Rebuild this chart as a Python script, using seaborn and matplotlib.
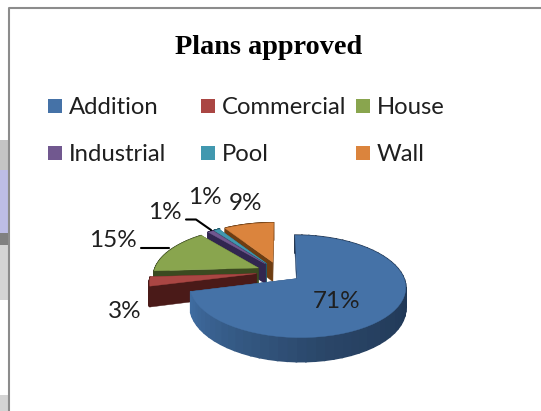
import numpy as np
import matplotlib
matplotlib.use("Agg")
import matplotlib.pyplot as plt
from matplotlib.patches import Rectangle
import seaborn as sns

title = "Plans approved"
categories = ["Addition", "Commercial", "House", "Industrial", "Pool", "Wall"]
shares = [71, 3, 15, 1, 1, 9]
top_colors = ["#4572A7", "#AA4643", "#89A54E", "#71588F", "#4198AF", "#DB843D"]
side_colors = ["#2c4a70", "#4a1a18", "#3b4a20", "#312650", "#1f5a6a", "#6e3d12"]
pct_labels = ["71%", "3%", "15%", "1%", "1%", "9%"]

sns.set_theme(style="white")
plt.rcParams["font.family"] = ["Lato", "DejaVu Sans"]

fig = plt.figure(figsize=(5.41, 4.11), dpi=100, facecolor="white")
ax = fig.add_axes([0, 0, 1, 1])
ax.set_xlim(0, 541)
ax.set_ylim(411, 0)
ax.axis("off")

# pie geometry, in pixels
cx, cy = 279, 272
rx, ry = 104.5, 48
persp = 0.15
explode = 0.218
depth = 20


def project(x, y):
    s = 1 / (1 + persp * y)
    return cx + rx * x * s, cy - ry * y * s, s


def wedge_pts(a0, a1, n=60):
    mid = np.radians((a0 + a1) / 2)
    ox, oy = explode * np.cos(mid), explode * np.sin(mid)
    ang = np.radians(np.linspace(a0, a1, n))
    return ox, oy, ox + np.cos(ang), oy + np.sin(ang)


# start at 12 o'clock, clockwise
edges = 90 - np.cumsum([0] + shares) * 3.6
order = [5, 4, 3, 2, 1, 0]  # back to front

for i in order:
    a0, a1 = edges[i], edges[i + 1]
    ox, oy, ax_pts, ay_pts = wedge_pts(a0, a1)
    px, py, ps = project(ax_pts, ay_pts)
    qx, qy, qs = project(ox, oy)

    # cut faces
    for k in [0, -1]:
        ax.fill([qx, px[k], px[k], qx],
                [qy, py[k], py[k] + depth * ps[k], qy + depth * qs],
                color=side_colors[i], lw=0.3, zorder=2)

    # outer wall, Addition gets a left to right shade
    if i == 0:
        shade = sns.blend_palette(["#1a2c45", "#1d3350", "#2a4668", "#3f6ca0"], len(px) - 1)
    else:
        shade = [side_colors[i]] * (len(px) - 1)
    for k in range(len(px) - 1):
        ax.fill([px[k], px[k + 1], px[k + 1], px[k]],
                [py[k], py[k + 1], py[k + 1] + depth * ps[k + 1], py[k] + depth * ps[k]],
                color=shade[k], lw=1.2, zorder=2)

    ax.fill(np.r_[qx, px], np.r_[qy, py], color=top_colors[i], lw=0.3, zorder=2)

# frame and the bit of page behind it
ax.add_patch(Rectangle((0, 140), 8, 30, color="#c4c4c4", lw=0, zorder=1))
ax.add_patch(Rectangle((0, 170), 8, 63, color="#bdbde6", lw=0, zorder=1))
ax.add_patch(Rectangle((0, 233), 8, 12, color="#808080", lw=0, zorder=1))
ax.add_patch(Rectangle((0, 245), 8, 55, color="#d4d4d4", lw=0, zorder=1))
ax.add_patch(Rectangle((0, 395), 8, 16, color="#d4d4d4", lw=0, zorder=1))
ax.plot([8.5, 8.5, 541], [411, 8.5, 8.5], color="#8c8c8c", lw=1.5, zorder=3)

ax.text(269, 47.5, title, family="Liberation Serif", weight="bold", fontsize=20.3,
        color="black", ha="center", va="center")

# legend, columns are not evenly spaced in the original
leg_x = [48, 201, 356]
leg_y = [106, 153]
for n, name in enumerate(categories):
    x = leg_x[n % 3]
    y = leg_y[n // 3]
    ax.add_patch(Rectangle((x, y - 7), 14, 14, color=top_colors[n], lw=0, zorder=3))
    ax.text(x + 21, y + 1, name, fontsize=17.2, color="#1f1f1f", ha="left", va="center")

# data labels
label_pos = [(337, 301), (125, 311), (113, 240), (165, 212), (205, 197), (245, 203)]
for lab, (x, y) in zip(pct_labels, label_pos):
    ax.text(x, y, lab, fontsize=17.5, color="#1f1f1f", ha="center", va="center", zorder=4)

# leader lines
ax.plot([141, 169], [247.5, 247.5], color="black", lw=1.5, zorder=4)
ax.plot([186, 196, 211], [219.5, 219.5, 230], color="black", lw=1.5, zorder=4)

fig.savefig("out.png", dpi=100)
